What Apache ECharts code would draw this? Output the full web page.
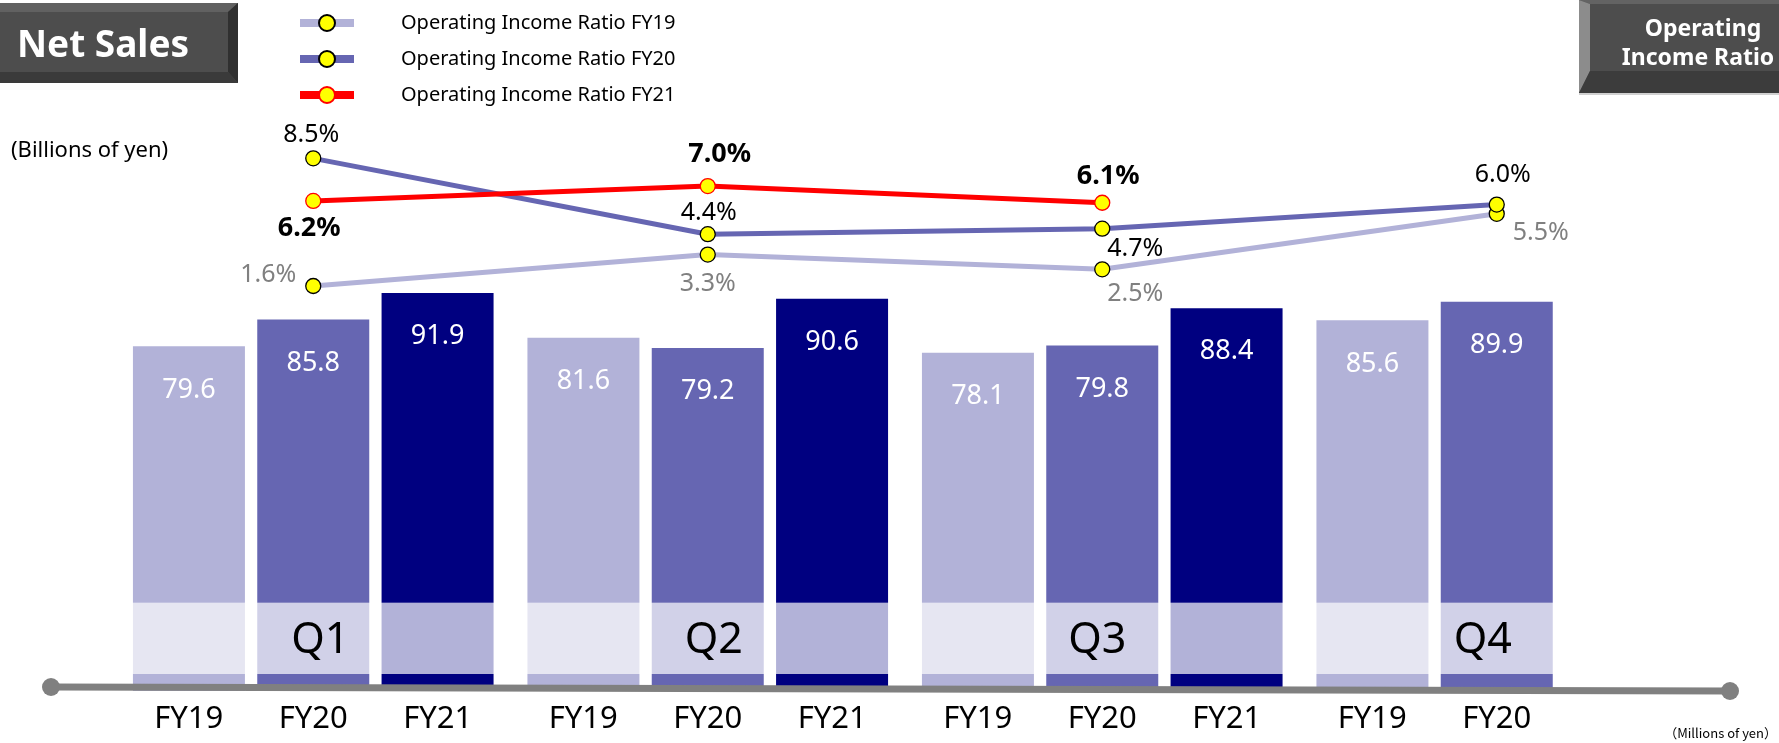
<!DOCTYPE html>
<html>
<head>
<meta charset="utf-8">
<script src="https://cdn.jsdelivr.net/npm/echarts@6/dist/echarts.min.js"></script>
<style>
html,body{margin:0;padding:0;background:#fff;}
#c{width:1779px;height:743px;}
</style>
</head>
<body>
<div id="c"></div>
<script>
// ---- data ----
const quarters = ['Q1', 'Q2', 'Q3', 'Q4'];
const fyLabels = ['FY19', 'FY20', 'FY21'];
const sales19 = [79.6, 81.6, 78.1, 85.6];
const sales20 = [85.8, 79.2, 79.8, 89.9];
const sales21 = [91.9, 90.6, 88.4, null];
const ratio19 = [1.6, 3.3, 2.5, 5.5];
const ratio20 = [8.5, 4.4, 4.7, 6.0];
const ratio21 = [6.2, 7.0, 6.1, null];
const seriesNames = ['Operating Income Ratio FY19', 'Operating Income Ratio FY20', 'Operating Income Ratio FY21'];

// ---- styling ----
const FONT = '"Noto Sans", sans-serif';
const C19 = '#B2B2D8', C20 = '#6666B2', C21 = '#000080';
const B19 = '#E6E6F2', B20 = '#D1D1E8', B21 = '#B2B2D8';
const BAND_LO = 3.9, BAND_HI = 20.4;
const qLabelDx = [7, 6, -5, -14];
const off19 = [[-45, -11], [0, 29], [33, 25], [44, 19]];
const off20 = [[-2, -23], [1, -21], [33, 20], [6, -30]];
const off21 = [[-4, 27], [12, -32], [6, -26], [0, 0]];

const chart = echarts.init(document.getElementById('c'), null, {renderer: 'canvas'});

function stackSeries(key, values, color, bandColor, isMidQ) {
  const common = {type: 'bar', stack: key, barWidth: 112, barGap: '11%', xAxisIndex: 0, yAxisIndex: 0, silent: true};
  return [
    Object.assign({}, common, {
      name: key + '_lo', itemStyle: {color: color},
      data: values.map(v => v == null ? '-' : BAND_LO)
    }),
    Object.assign({}, common, {
      name: key + '_mid', itemStyle: {color: bandColor},
      data: values.map((v, i) => {
        if (v == null) return '-';
        if (!isMidQ) return BAND_HI - BAND_LO;
        return {value: BAND_HI - BAND_LO, label: {show: true, position: 'inside', offset: [qLabelDx[i], 2],
          formatter: () => quarters[i], fontSize: 43, color: '#000', fontFamily: FONT}};
      })
    }),
    Object.assign({}, common, {
      name: key + '_hi', itemStyle: {color: color},
      data: values.map(v => v == null ? '-' : +(v - BAND_HI).toFixed(2)),
      label: {show: true, position: 'insideTop', distance: 30, color: '#fff', fontSize: 27, fontFamily: FONT,
        formatter: p => values[p.dataIndex].toFixed(1)}
    })
  ];
}

function lineSeries(name, values, color, border, offs, labelColor, bold) {
  return {
    type: 'line', name: name, xAxisIndex: 1, yAxisIndex: 1, clip: false,
    symbol: 'circle', symbolSize: 15, z: 5,
    lineStyle: {color: color, width: 5},
    itemStyle: {color: '#FFFF00', borderColor: border, borderWidth: 1.3},
    data: values.map((v, i) => v == null ? '-' : {value: v, label: {offset: offs[i]}}),
    label: {show: true, position: 'inside', color: labelColor, fontFamily: FONT,
      fontSize: bold ? 27 : 25, fontWeight: bold ? 'bold' : 'normal',
      formatter: p => p.value.toFixed(1) + '%'}
  };
}

const axisRich = {a: {width: 124.5, align: 'center', fontSize: 31, lineHeight: 32, color: '#000', fontFamily: FONT}};

const option = {
  animation: false,
  grid: [
    {left: 116, right: 85, top: 258, bottom: 52},
    {left: 116, right: 85, top: 130.6, bottom: 427.4}
  ],
  xAxis: [
    {type: 'category', gridIndex: 0, data: quarters, axisLine: {show: false}, axisTick: {show: false},
      axisLabel: {interval: 0, margin: 12, rich: axisRich,
        formatter: (val, idx) => fyLabels.map((f, k) => {
          const arr = [sales19, sales20, sales21][k];
          return '{a|' + (arr[idx] == null ? ' ' : f) + '}';
        }).join('')}},
    {type: 'category', gridIndex: 1, data: quarters, show: false}
  ],
  yAxis: [
    {type: 'value', gridIndex: 0, min: 0, max: 100, show: false},
    {type: 'value', gridIndex: 1, min: 0, max: 10, show: false}
  ],
  legend: {
    orient: 'vertical', left: 291, top: 8, itemWidth: 54, itemHeight: 20, itemGap: 16,
    data: seriesNames,
    lineStyle: {width: 8},
    textStyle: {fontSize: 20, lineHeight: 20, color: '#000', fontFamily: FONT, padding: [0, 0, 0, 42]}
  },
  series: [
    ...stackSeries('fy19', sales19, C19, B19, false),
    ...stackSeries('fy20', sales20, C20, B20, true),
    ...stackSeries('fy21', sales21, C21, B21, false),
    lineSeries(seriesNames[0], ratio19, C19, '#000', off19, '#808080', false),
    lineSeries(seriesNames[1], ratio20, C20, '#000', off20, '#000', false),
    lineSeries(seriesNames[2], ratio21, '#FF0000', '#FF0000', off21, '#000', true)
  ],
  graphic: [
    // Net Sales box
    {type: 'rect', shape: {x: 0, y: 3, width: 238, height: 80}, style: {fill: '#4D4D4D'}},
    {type: 'polygon', shape: {points: [[0, 3], [238, 3], [228, 12], [0, 12]]}, style: {fill: '#616161'}},
    {type: 'polygon', shape: {points: [[238, 3], [238, 83], [228, 72], [228, 12]]}, style: {fill: '#303030'}},
    {type: 'polygon', shape: {points: [[0, 72], [228, 72], [238, 83], [0, 83]]}, style: {fill: '#3A3A3A'}},
    {type: 'text', x: 103, y: 46, style: {text: 'Net Sales', fill: '#fff', font: 'bold 37px ' + FONT, align: 'center', verticalAlign: 'middle'}},
    // Operating Income Ratio box
    {type: 'rect', shape: {x: 1579, y: 0, width: 260, height: 93}, style: {fill: '#4D4D4D'}},
    {type: 'polygon', shape: {points: [[1579, 0], [1840, 0], [1840, 4], [1590, 4]]}, style: {fill: '#636363'}},
    {type: 'polygon', shape: {points: [[1579, 0], [1590, 4], [1590, 71], [1579, 93]]}, style: {fill: '#8C8C8C'}},
    {type: 'polygon', shape: {points: [[1590, 71], [1840, 71], [1840, 93], [1579, 93]]}, style: {fill: '#3C3C3C'}},
    {type: 'rect', shape: {x: 1579, y: 93, width: 260, height: 2}, style: {fill: '#D0D0D0'}},
    {type: 'text', x: 1703, y: 29, style: {text: 'Operating', fill: '#fff', font: 'bold 23px ' + FONT, align: 'center', verticalAlign: 'middle'}},
    {type: 'text', x: 1698, y: 58, style: {text: 'Income Ratio', fill: '#fff', font: 'bold 23px ' + FONT, align: 'center', verticalAlign: 'middle'}},
    // units
    {type: 'text', x: 11, y: 151, style: {text: '(Billions of yen)', fill: '#000', font: '22px ' + FONT, align: 'left', verticalAlign: 'middle'}},
    {type: 'text', x: 1777, y: 733, style: {text: '（Millions of yen）', fill: '#000', font: '13px "Noto Sans CJK JP", ' + FONT, align: 'right', verticalAlign: 'middle'}},
    // baseline
    {type: 'line', z: 100, shape: {x1: 51, y1: 687, x2: 1730, y2: 691}, style: {stroke: '#808080', lineWidth: 7}},
    {type: 'circle', z: 100, shape: {cx: 51, cy: 687, r: 9}, style: {fill: '#808080'}},
    {type: 'circle', z: 100, shape: {cx: 1730, cy: 691, r: 9}, style: {fill: '#808080'}}
  ]
};
chart.setOption(option);
</script>
</body>
</html>
